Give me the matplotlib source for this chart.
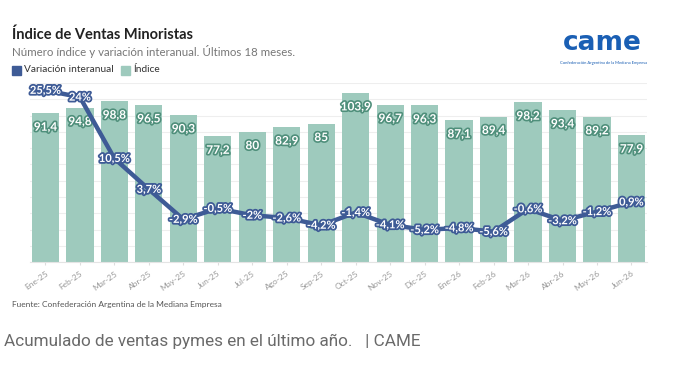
import matplotlib
matplotlib.use('Agg')
import matplotlib.pyplot as plt
import matplotlib.patheffects as pe
from matplotlib.patches import Rectangle

# Data
meses = ['Ene-25', 'Feb-25', 'Mar-25', 'Abr-25', 'May-25', 'Jun-25', 'Jul-25', 'Ago-25', 'Sep-25',
         'Oct-25', 'Nov-25', 'Dic-25', 'Ene-26', 'Feb-26', 'Mar-26', 'Abr-26', 'May-26', 'Jun-26']
indice = [91.4, 94.8, 98.8, 96.5, 90.3, 77.2, 80, 82.9, 85,
          103.9, 96.7, 96.3, 87.1, 89.4, 98.2, 93.4, 89.2, 77.9]
variacion = [25.5, 24, 10.5, 3.7, -2.9, -0.5, -2, -2.6, -4.2,
             -1.4, -4.1, -5.2, -4.8, -5.6, -0.6, -3.2, -1.2, 0.9]

BAR = '#9ecabd'
BAR_DARK = '#4f8f7b'
LINE = '#3e5b96'
FONT = 'Lato'

def fmt(v):
    s = ('%.1f' % v).rstrip('0').rstrip('.')
    return s.replace('.', ',')

fig = plt.figure(figsize=(6.81, 3.66), dpi=100)
fig.patch.set_facecolor('white')

ax = fig.add_axes([0.044, 0.284, 0.906, 0.489])
x = list(range(len(meses)))
ax.bar(x, indice, width=0.79, color=BAR, zorder=2)
ax.set_ylim(0, 110)
ax.set_xlim(-0.45, 17.45)
ax.set_yticks(range(0, 111, 10))
ax.yaxis.grid(True, color='#eeeeee', lw=0.8, zorder=0)
ax.set_yticklabels([])
ax.tick_params(axis='y', length=0)
ax.tick_params(axis='x', length=2, color='#dddddd')
for s in ['top', 'right', 'left']:
    ax.spines[s].set_visible(False)
ax.spines['bottom'].set_color('#e4e4e4')
ax.set_xticks(x)
ax.set_xticklabels(meses, rotation=35, ha='right', rotation_mode='anchor',
                   fontsize=6, color='#999999', family=FONT)

for xi, v in zip(x, indice):
    ax.annotate(fmt(v), (xi, v), xytext=(0, -10), textcoords='offset points',
                ha='center', va='center', fontsize=8.5, fontweight='bold', color='white',
                family=FONT, zorder=3,
                path_effects=[pe.withStroke(linewidth=2.4, foreground=BAR_DARK)])

ax2 = ax.twinx()
ax2.set_ylim(-12.3, 27.1)
ax2.axis('off')
ax2.plot(x, variacion, color=LINE, lw=3.2, solid_joinstyle='round', solid_capstyle='round', zorder=4)
for xi, v in zip(x, variacion):
    ax2.text(xi, v, fmt(v) + '%', ha='center', va='center', fontsize=8, fontweight='bold',
             color='white', family=FONT, zorder=5,
             path_effects=[pe.withStroke(linewidth=2.6, foreground=LINE)])

# Titles and legend
fig.text(12 / 681, 1 - 35 / 366, 'Índice de Ventas Minoristas', fontsize=10.5, fontweight='bold',
         color='#222222', family=FONT, va='center')
fig.text(12 / 681, 1 - 51 / 366, 'Número índice y variación interanual. Últimos 18 meses.',
         fontsize=8.3, color='#777777', family=FONT, va='center')
fig.patches.append(Rectangle((12 / 681, 1 - 75 / 366), 9 / 681, 9 / 366, color=LINE,
                             transform=fig.transFigure, figure=fig))
fig.text(24 / 681, 1 - 70 / 366, 'Variación interanual', fontsize=7.3, color='#333333',
         family=FONT, va='center')
fig.patches.append(Rectangle((121 / 681, 1 - 75 / 366), 9 / 681, 9 / 366, color=BAR,
                             transform=fig.transFigure, figure=fig))
fig.text(133 / 681, 1 - 70 / 366, 'Índice', fontsize=7.3, color='#333333', family=FONT, va='center')

# Logo
fig.text(602 / 681, 1 - 43 / 366, 'came', fontsize=19, fontweight='bold', color='#1a5fb4',
         family='DejaVu Sans', ha='center', va='center')
fig.text(603 / 681, 1 - 63 / 366, 'Confederación Argentina de la Mediana Empresa', fontsize=3,
         color='#1a5fb4', family=FONT, ha='center', va='center')

fig.text(12 / 681, 1 - 305 / 366, 'Fuente: Confederación Argentina de la Mediana Empresa',
         fontsize=6, color='#555555', family=FONT, va='center')
fig.text(4 / 681, 1 - 341 / 366, 'Acumulado de ventas pymes en el último año.   | CAME',
         fontsize=12.3, color='#6a6a6a', family='Roboto', va='center')

fig.savefig('out.png', dpi=100, facecolor='white')
